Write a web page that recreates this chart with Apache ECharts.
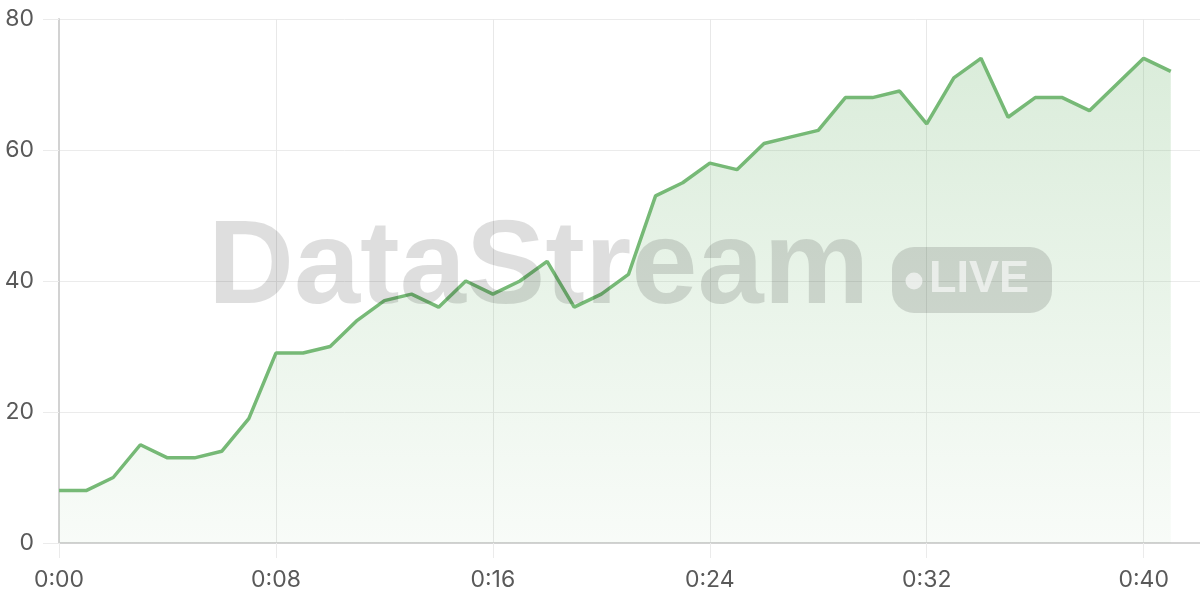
<!DOCTYPE html>
<html>
<head>
<meta charset="utf-8">
<script src="https://cdn.jsdelivr.net/npm/echarts@6/dist/echarts.min.js"></script>
<style>
html,body{margin:0;padding:0;background:#fff;}
#chart{width:1200px;height:600px;}
</style>
</head>
<body>
<div id="chart"></div>
<script>
// ---- data ----
var minutes = [0,1,2,3,4,5,6,7,8,9,10,11,12,13,14,15,16,17,18,19,20,21,22,23,24,25,26,27,28,29,30,31,32,33,34,35,36,37,38,39,40,41];
var values  = [8,8,10,15,13,13,14,19,29,29,30,34,37,38,36,40,38,40,43,36,38,41,53,55,58,57,61,62,63,68,68,69,64,71,74,65,68,68,66,70,74,72];
var xTickValues = [0,8,16,24,32,40];
var xTickLabels = ['0:00','0:08','0:16','0:24','0:32','0:40'];
var yTickValues = [0,20,40,60,80];
var watermarkText = 'DataStream';
var badgeText = 'LIVE';

var chart = echarts.init(document.getElementById('chart'), null, {renderer:'canvas'});
var seriesData = minutes.map(function(m,i){ return [m, values[i]]; });
var labelFont = 'Inter, "Liberation Sans", sans-serif';

chart.setOption({
  animation: false,
  backgroundColor: '#ffffff',
  grid: { left: 59, width: 1166, top: 19, bottom: 57, containLabel: false, outerBoundsMode: 'none' },
  xAxis: {
    type: 'value', min: 0, max: 43, interval: 8,
    axisLine: { show: true, onZero: false, lineStyle: { color: '#d2d2d2', width: 2 } },
    axisTick: { show: true, length: 15, lineStyle: { color: '#ebebeb', width: 1 } },
    axisLabel: {
      margin: 26, color: '#595959', fontSize: 23, fontFamily: labelFont,
      showMaxLabel: false,
      formatter: function(v){ var k = xTickValues.indexOf(v); return k >= 0 ? xTickLabels[k] : ''; }
    },
    splitLine: { show: true, lineStyle: { color: '#e8e8e8', width: 1 } }
  },
  yAxis: {
    type: 'value', min: 0, max: 80, interval: 20,
    axisLine: { show: true, lineStyle: { color: '#d2d2d2', width: 2 } },
    axisTick: { show: true, length: 16, lineStyle: { color: '#ebebeb', width: 1 } },
    axisLabel: {
      margin: 25, color: '#595959', fontSize: 23, fontFamily: labelFont,
      formatter: function(v){ return yTickValues.indexOf(v) >= 0 ? String(v) : ''; }
    },
    splitLine: { show: true, lineStyle: { color: '#ebebeb', width: 1 } }
  },
  series: [{
    type: 'line',
    data: seriesData,
    showSymbol: false,
    symbol: 'none',
    lineStyle: { color: '#76b976', width: 3.5 },
    itemStyle: { color: '#76b976' },
    areaStyle: {
      color: new echarts.graphic.LinearGradient(0, 0, 0, 1, [
        { offset: 0, color: 'rgba(118,185,118,0.38)' },
        { offset: 1, color: 'rgba(118,185,118,0.07)' }
      ])
    }
  }],
  graphic: [
    {
      type: 'text', z: 100, silent: true,
      style: {
        text: watermarkText, x: 208, y: 270,
        font: 'bold 119px "Liberation Sans", Arial, sans-serif',
        fill: 'rgba(0,0,0,0.13)', textAlign: 'left', textVerticalAlign: 'middle'
      }
    },
    {
      type: 'rect', z: 100, silent: true,
      shape: { x: 892, y: 247, width: 160, height: 66, r: 22 },
      style: { fill: 'rgba(0,0,0,0.13)' }
    },
    {
      type: 'circle', z: 101, silent: true,
      shape: { cx: 914, cy: 281, r: 8.5 },
      style: { fill: 'rgba(255,255,255,0.6)' }
    },
    {
      type: 'text', z: 101, silent: true,
      style: {
        text: badgeText, x: 929, y: 280,
        font: 'bold 45px "Liberation Sans", Arial, sans-serif',
        fill: 'rgba(255,255,255,0.6)', textAlign: 'left', textVerticalAlign: 'middle'
      }
    }
  ]
});
</script>
</body>
</html>
